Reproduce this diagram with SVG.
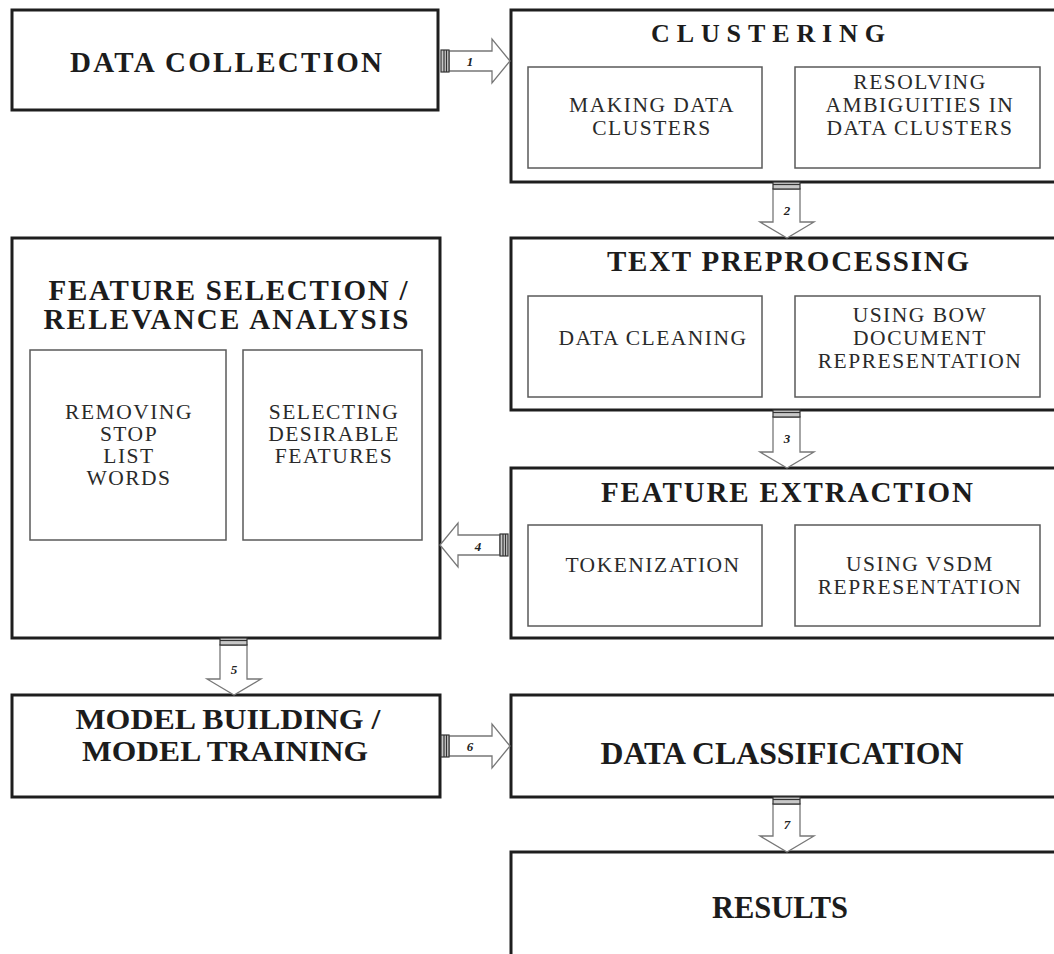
<svg xmlns="http://www.w3.org/2000/svg" width="1054" height="954" viewBox="0 0 1054 954">
<style>
.box{fill:#fff;stroke:#1e1e1e;stroke-width:3}
.inner{fill:#fff;stroke:#5a5a5a;stroke-width:1.5}
.t{font-family:"Liberation Serif","Times New Roman",serif;font-weight:bold;fill:#1c1c1c;text-anchor:middle}
.s{font-family:"Liberation Serif","Times New Roman",serif;font-size:21.5px;fill:#2a2a2a;text-anchor:middle;letter-spacing:1.5px}
.arr{fill:#fff;stroke:#777;stroke-width:1.3}
.stub{fill:#c8c8c8;stroke:#333;stroke-width:1.2}
.sl{stroke:#333;stroke-width:1.2}
.n{font-family:"Liberation Serif",serif;font-style:italic;font-weight:bold;font-size:13px;fill:#222;text-anchor:middle}
</style>
<rect width="1054" height="954" fill="#fff"/>
<g id="data-collection">
<rect class="box" x="12" y="10" width="426" height="100"/>
<text class="t" x="226" y="72" font-size="29" textLength="312" lengthAdjust="spacing">DATA COLLECTION</text>
</g>
<g id="clustering">
<rect class="box" x="511" y="10" width="560" height="172"/>
<text class="t" x="768" y="42" font-size="26" textLength="234" lengthAdjust="spacing">CLUSTERING</text>
<rect class="inner" x="528" y="67" width="234" height="101"/>
<text class="s" x="652" y="112">MAKING DATA</text>
<text class="s" x="652" y="135">CLUSTERS</text>
<rect class="inner" x="795" y="67" width="245" height="101"/>
<text class="s" x="920" y="89">RESOLVING</text>
<text class="s" x="920" y="112">AMBIGUITIES IN</text>
<text class="s" x="920" y="135">DATA CLUSTERS</text>
</g>
<g id="text-preprocessing">
<rect class="box" x="511" y="238" width="560" height="172"/>
<text class="t" x="788" y="271" font-size="29" textLength="362" lengthAdjust="spacing">TEXT PREPROCESSING</text>
<rect class="inner" x="528" y="296" width="234" height="101"/>
<text class="s" x="653" y="345">DATA CLEANING</text>
<rect class="inner" x="795" y="296" width="245" height="101"/>
<text class="s" x="920" y="322">USING BOW</text>
<text class="s" x="920" y="345">DOCUMENT</text>
<text class="s" x="920" y="368">REPRESENTATION</text>
</g>
<g id="feature-extraction">
<rect class="box" x="511" y="468" width="560" height="170"/>
<text class="t" x="787" y="502" font-size="29" textLength="372" lengthAdjust="spacing">FEATURE EXTRACTION</text>
<rect class="inner" x="528" y="525" width="234" height="101"/>
<text class="s" x="653" y="572">TOKENIZATION</text>
<rect class="inner" x="795" y="525" width="245" height="101"/>
<text class="s" x="920" y="571">USING VSDM</text>
<text class="s" x="920" y="594">REPRESENTATION</text>
</g>
<g id="feature-selection">
<rect class="box" x="12" y="238" width="428" height="400"/>
<text class="t" x="228" y="300" font-size="29" textLength="359" lengthAdjust="spacing">FEATURE SELECTION /</text>
<text class="t" x="226" y="329" font-size="29" textLength="365" lengthAdjust="spacing">RELEVANCE ANALYSIS</text>
<rect class="inner" x="30" y="350" width="196" height="190"/>
<text class="s" x="129" y="419">REMOVING</text>
<text class="s" x="129" y="441">STOP</text>
<text class="s" x="129" y="463">LIST</text>
<text class="s" x="129" y="485">WORDS</text>
<rect class="inner" x="243" y="350" width="179" height="190"/>
<text class="s" x="334" y="419">SELECTING</text>
<text class="s" x="334" y="441">DESIRABLE</text>
<text class="s" x="334" y="463">FEATURES</text>
</g>
<g id="model-building">
<rect class="box" x="12" y="695" width="428" height="102"/>
<text class="t" x="228" y="729" font-size="29" textLength="305" lengthAdjust="spacingAndGlyphs">MODEL BUILDING /</text>
<text class="t" x="225" y="761" font-size="29" textLength="286" lengthAdjust="spacingAndGlyphs">MODEL TRAINING</text>
</g>
<g id="data-classification">
<rect class="box" x="511" y="695" width="560" height="102"/>
<text class="t" x="782" y="764" font-size="32" textLength="363" lengthAdjust="spacingAndGlyphs">DATA CLASSIFICATION</text>
</g>
<g id="results">
<rect class="box" x="511" y="852" width="560" height="120"/>
<text class="t" x="780" y="918" font-size="32" textLength="136" lengthAdjust="spacingAndGlyphs">RESULTS</text>
</g>
<g id="connectors">
<path class="arr" d="M449,51 H492 V39 L510,61 L492,83 V71 H449 Z"/>
<rect class="stub" x="441" y="50" width="8" height="22"/>
<line class="sl" x1="444" y1="50" x2="444" y2="72"/><line class="sl" x1="446.5" y1="50" x2="446.5" y2="72"/>
<text class="n" x="470" y="66">1</text>

<path class="arr" d="M773,189 V222 H760 L787,238 L814,222 H800 V189 Z"/>
<rect class="stub" x="773" y="182" width="27" height="7"/>
<line class="sl" x1="773" y1="184.5" x2="800" y2="184.5"/>
<text class="n" x="787" y="215">2</text>

<path class="arr" d="M773,417 V452 H760 L787,468 L814,452 H800 V417 Z"/>
<rect class="stub" x="773" y="410" width="27" height="7"/>
<line class="sl" x1="773" y1="412.5" x2="800" y2="412.5"/>
<text class="n" x="787" y="443">3</text>

<path class="arr" d="M500,535 H458 V523 L440,545 L458,567 V555 H500 Z"/>
<rect class="stub" x="500" y="534" width="8" height="22"/>
<line class="sl" x1="503" y1="534" x2="503" y2="556"/><line class="sl" x1="505.5" y1="534" x2="505.5" y2="556"/>
<text class="n" x="478" y="551">4</text>

<path class="arr" d="M220,645 V679 H207 L234,695 L261,679 H247 V645 Z"/>
<rect class="stub" x="220" y="638" width="27" height="7"/>
<line class="sl" x1="220" y1="640.5" x2="247" y2="640.5"/>
<text class="n" x="234" y="674">5</text>

<path class="arr" d="M449,736 H492 V724 L510,746 L492,768 V756 H449 Z"/>
<rect class="stub" x="441" y="735" width="8" height="22"/>
<line class="sl" x1="444" y1="735" x2="444" y2="757"/><line class="sl" x1="446.5" y1="735" x2="446.5" y2="757"/>
<text class="n" x="470" y="751">6</text>

<path class="arr" d="M773,804 V836 H760 L787,852 L814,836 H800 V804 Z"/>
<rect class="stub" x="773" y="797" width="27" height="7"/>
<line class="sl" x1="773" y1="799.5" x2="800" y2="799.5"/>
<text class="n" x="787" y="829">7</text>
</g>
</svg>
